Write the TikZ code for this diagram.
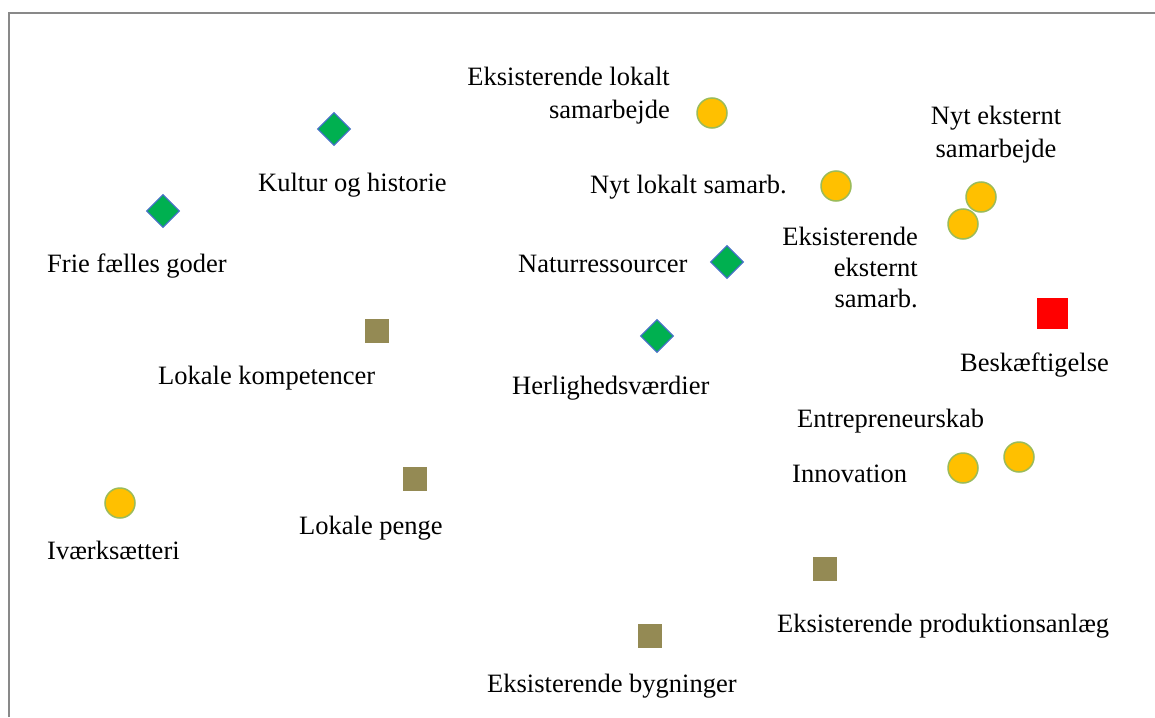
\documentclass[tikz,border=0pt]{standalone}
\usepackage{fontspec}
\setmainfont{Liberation Serif}
\usetikzlibrary{shapes.geometric}
\definecolor{dgreen}{HTML}{00B050}
\definecolor{dblue}{HTML}{4472C4}
\definecolor{corange}{HTML}{FFC000}
\definecolor{cgreen}{HTML}{9BBB59}
\definecolor{olive}{HTML}{948A54}
\definecolor{frame}{HTML}{898989}
\begin{document}
\begin{tikzpicture}[x=1pt,y=-1pt,
  dia/.style={diamond,aspect=1,fill=dgreen,draw=dblue,line width=1.2pt,inner sep=0pt,minimum size=33pt},
  circ/.style={circle,fill=corange,draw=cgreen,line width=1.5pt,inner sep=0pt,minimum size=30pt},
  sq/.style={rectangle,fill=olive,inner sep=0pt,minimum size=24pt},
  redsq/.style={rectangle,fill=red,inner sep=0pt,minimum size=31pt},
  lbl/.style={inner sep=0pt,font=\fontsize{26.5}{33}\selectfont},
  lblw/.style={lbl,anchor=base west},
  lble/.style={lbl,anchor=base east}]
\useasboundingbox (0,0) rectangle (1155,717);
\fill[white] (0,0) rectangle (1155,717);
\coordinate (fa) at (8.8,717);
\coordinate (fb) at (8.8,13);
\coordinate (fc) at (1155,13);
\draw[frame,line width=1.6pt] (fa) -- (fb) -- (fc);
% diamonds
\node[dia] (d1) at (334,129) {};
\node[dia] (d2) at (163,211) {};
\node[dia] (d3) at (727,262) {};
\node[dia] (d4) at (657,336) {};
% circles
\node[circ] (c1) at (712,113) {};
\node[circ] (c2) at (836,186) {};
\node[circ] (c3) at (981,197) {};
\node[circ] (c4) at (963,224) {};
\node[circ] (c5) at (963,468) {};
\node[circ] (c6) at (1019,457) {};
\node[circ] (c7) at (120,503) {};
% squares
\node[sq] (s1) at (377,331) {};
\node[sq] (s2) at (415,479) {};
\node[sq] (s3) at (825,569) {};
\node[sq] (s4) at (650,636) {};
\node[redsq] (r1) at (1052,313) {};
% labels
\node[lble,align=right] (t1) at (670,118) {Eksisterende lokalt\\samarbejde};
\node[lbl,anchor=base,align=center] (t2) at (996,157) {Nyt eksternt\\samarbejde};
\node[lblw] (t3) at (258,191) {Kultur og historie};
\node[lblw] (t4) at (590,193) {Nyt lokalt samarb.};
\node[lblw] (t5) at (47,272) {Frie fælles goder};
\node[lblw] (t6) at (518,272) {Naturressourcer};
\node[lble,align=right,font=\fontsize{26.5}{31}\selectfont] (t7) at (918,307) {Eksisterende\\eksternt\\samarb.};
\node[lblw] (t8) at (960,371) {Beskæftigelse};
\node[lblw] (t9) at (158,384) {Lokale kompetencer};
\node[lblw] (t10) at (512,394) {Herlighedsværdier};
\node[lblw] (t11) at (797,427) {Entrepreneurskab};
\node[lblw] (t12) at (792,482) {Innovation};
\node[lblw] (t13) at (47,559) {Iværksætteri};
\node[lblw] (t14) at (299,534) {Lokale penge};
\node[lblw] (t15) at (777,632) {Eksisterende produktionsanlæg};
\node[lblw] (t16) at (487,692) {Eksisterende bygninger};
\end{tikzpicture}
\end{document}
